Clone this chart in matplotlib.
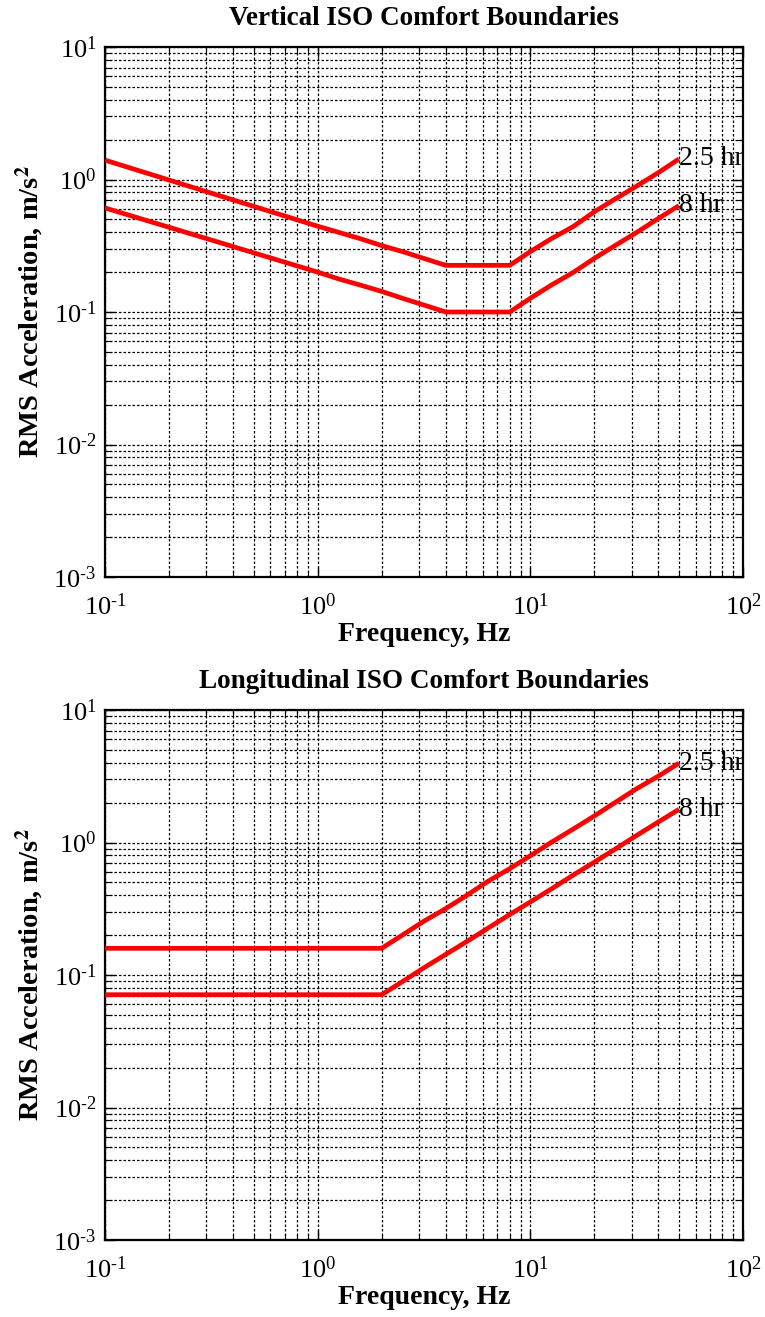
import matplotlib
matplotlib.use("Agg")
import matplotlib.pyplot as plt
from matplotlib.ticker import LogLocator, NullFormatter, FuncFormatter
import math

plt.rcParams['font.family'] = ['Liberation Serif', 'DejaVu Serif']
plt.rcParams['mathtext.fontset'] = 'stix'

# Vertical ISO comfort boundaries
freq_v = [0.1, 1, 1.25, 1.6, 2, 2.5, 3.15, 4, 5, 6.3, 8, 10, 12.5, 16, 20, 25, 31.5, 40, 50]
vert_25hr = [1.40, 0.444, 0.40, 0.356, 0.317, 0.286, 0.254, 0.225, 0.225, 0.225, 0.225,
             0.286, 0.356, 0.444, 0.571, 0.711, 0.889, 1.127, 1.429]
vert_8hr = [0.61, 0.20, 0.178, 0.159, 0.143, 0.127, 0.113, 0.10, 0.10, 0.10, 0.10,
            0.127, 0.159, 0.20, 0.254, 0.317, 0.397, 0.508, 0.635]

# Longitudinal ISO comfort boundaries
freq_l = [0.1, 1, 1.25, 1.6, 2, 2.5, 3.15, 4, 5, 6.3, 8, 10, 12.5, 16, 20, 25, 31.5, 40, 50]
long_25hr = [0.159, 0.159, 0.159, 0.159, 0.159, 0.20, 0.254, 0.317, 0.397, 0.508, 0.635,
             0.794, 1.00, 1.27, 1.587, 2.00, 2.54, 3.17, 3.97]
long_8hr = [0.071, 0.071, 0.071, 0.071, 0.071, 0.089, 0.113, 0.143, 0.178, 0.225, 0.286,
            0.356, 0.444, 0.571, 0.711, 0.889, 1.127, 1.429, 1.778]

labels = ['2.5 hr', '8 hr']
titles = ['Vertical ISO Comfort Boundaries', 'Longitudinal ISO Comfort Boundaries']


def fmt(v, pos):
    e = int(round(math.log10(v)))
    s = str(e).replace('-', r'\text{-}')
    return r'$\mathregular{10^{%s}}$' % s


fig = plt.figure(figsize=(7.65, 13.17), dpi=100)
W, H = 765, 1317
boxes = [(105, 47, 743, 577), (105, 710, 743, 1240)]
datasets = [(freq_v, vert_25hr, vert_8hr), (freq_l, long_25hr, long_8hr)]

for (x0, y0, x1, y1), (f, a25, a8), title in zip(boxes, datasets, titles):
    ax = fig.add_axes([x0 / W, 1 - y1 / H, (x1 - x0) / W, (y1 - y0) / H])
    ax.set_xscale('log')
    ax.set_yscale('log')
    ax.set_xlim(0.1, 100)
    ax.set_ylim(1e-3, 10)
    ax.plot(f, a25, color='#ff0000', lw=3.4, solid_capstyle='butt', zorder=3)
    ax.plot(f, a8, color='#ff0000', lw=3.4, solid_capstyle='butt', zorder=3)
    for lab, series in zip(labels, (a25, a8)):
        ax.text(f[-1], series[-1], lab, fontsize=20, ha='left', va='center',
                zorder=4, clip_on=True)
    ax.xaxis.set_major_locator(LogLocator(base=10, numticks=10))
    ax.yaxis.set_major_locator(LogLocator(base=10, numticks=10))
    ax.xaxis.set_minor_locator(LogLocator(base=10, subs=range(2, 10), numticks=10))
    ax.yaxis.set_minor_locator(LogLocator(base=10, subs=range(2, 10), numticks=10))
    ax.xaxis.set_major_formatter(FuncFormatter(fmt))
    ax.yaxis.set_major_formatter(FuncFormatter(fmt))
    ax.xaxis.set_minor_formatter(NullFormatter())
    ax.yaxis.set_minor_formatter(NullFormatter())
    ax.grid(True, which='both', color='black', linestyle=(0, (2, 1.6)), linewidth=0.9)
    ax.tick_params(which='both', direction='in', top=True, right=True, labelsize=19)
    ax.tick_params(which='major', length=7, width=1)
    ax.tick_params(which='minor', length=4, width=0.8)
    ax.tick_params(axis='x', pad=12)
    ax.tick_params(axis='y', pad=6)
    for s in ax.spines.values():
        s.set_linewidth(1.6)
    ax.set_title(title, fontsize=19.5, fontweight='bold', pad=16)
    ax.set_xlabel('Frequency, Hz', fontsize=20, fontweight='bold', labelpad=1)
    ax.set_ylabel(r'RMS Acceleration, m/s$^\mathbf{2}$', fontsize=20.5, fontweight='bold', labelpad=6)

fig.savefig('out.png', dpi=100)
